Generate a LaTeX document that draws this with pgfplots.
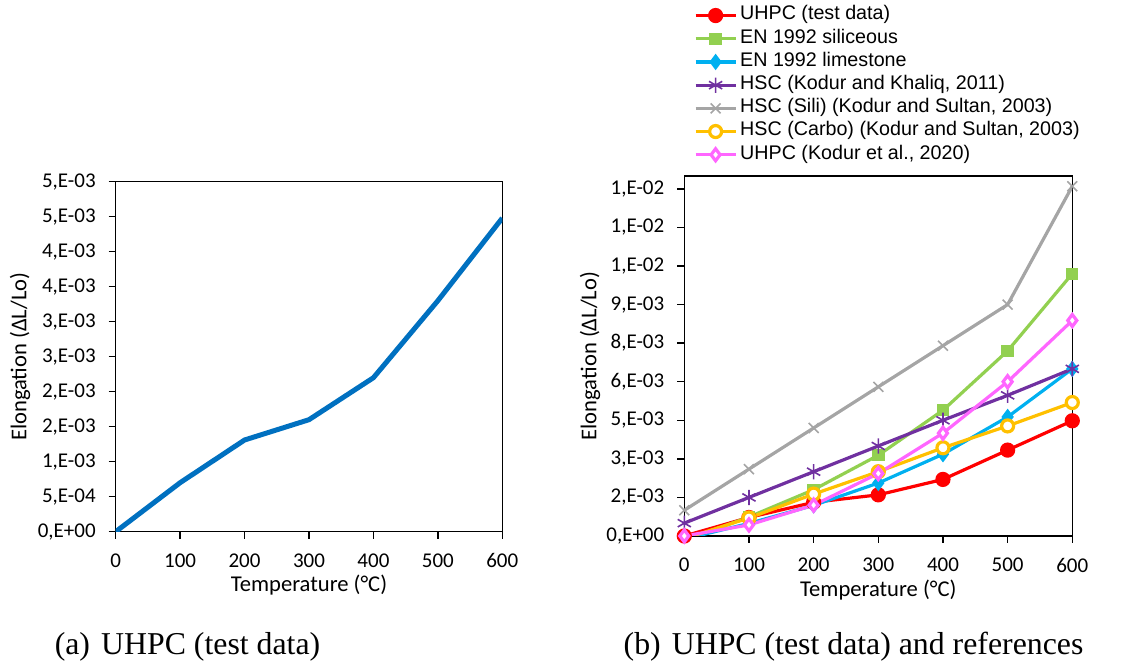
\documentclass[border=0pt]{standalone}
\usepackage{fontspec}
\setmainfont{Liberation Serif}
\newfontfamily\calibri{Carlito}
\newfontfamily\arial{Liberation Sans}
\usepackage{pgfplots}
\pgfplotsset{compat=1.18}

\definecolor{xlblue}{HTML}{0070C0}
\definecolor{xlred}{HTML}{FF0000}
\definecolor{xlgreen}{HTML}{92D050}
\definecolor{xlcyan}{HTML}{00B0F0}
\definecolor{xlpurple}{HTML}{7030A0}
\definecolor{xlgrey}{HTML}{A5A5A5}
\definecolor{xlyellow}{HTML}{FFC000}
\definecolor{xlpink}{HTML}{FF66FF}

\pgfplotsset{
  xlaxis/.style={
    scale only axis,
    axis line style={black, line width=0.75pt},
    every tick/.style={black, line width=0.75pt},
    tick align=outside, major tick length=3.5pt, tick pos=left,
    scaled y ticks=false,
    xmin=0, xmax=600, xtick={0,100,200,300,400,500,600},
    xticklabels={0,100,200,300,400,500,600},
    tick label style={font=\calibri\fontsize{10.5}{12}\selectfont},
    xticklabel style={yshift=-4pt},
    yticklabel style={xshift=-3pt},
    label style={font=\calibri\fontsize{11.3}{13}\selectfont},
    xlabel={Temperature (°C)}, ylabel={Elongation (ΔL/Lo)},
  },
  xlser/.style={line width=1.6pt, mark options={solid, line width=0.8pt}},
  legend image code/.code={%
    \draw[mark repeat=2, mark phase=2, #1] plot coordinates {(0pt,0pt) (10pt,0pt) (20pt,0pt)};},
}

\begin{document}
\begin{tikzpicture}
\useasboundingbox (0,0) rectangle (561.5pt,331pt);

% (a) test data only
\begin{axis}[xlaxis,
  at={(57.85pt,65.15pt)}, anchor=south west, width=193.3pt, height=175pt,
  ymin=0, ymax=0.005,
  ytick={0,0.0005,0.001,0.0015,0.002,0.0025,0.003,0.0035,0.004,0.0045,0.005},
  yticklabels={{0,E+00},{5,E-04},{1,E-03},{2,E-03},{2,E-03},{3,E-03},{3,E-03},{4,E-03},{4,E-03},{5,E-03},{5,E-03}},
  xlabel style={at={(axis description cs:0.5,-0.152)}, anchor=center},
  ylabel style={at={(axis description cs:-0.2475,0.5)}, anchor=center},
]
\addplot[xlblue, line width=2.5pt] coordinates {
  (0,0) (100,0.0007) (200,0.00131) (300,0.0016) (400,0.0022) (500,0.0033) (600,0.00448)};
\end{axis}

% (b) test data and references
\begin{axis}[xlaxis,
  at={(342.15pt,63pt)}, anchor=south west, width=194pt, height=180pt,
  ymin=0, ymax=0.014,
  ytick={0,0.0015,0.003,0.0045,0.006,0.0075,0.009,0.0105,0.012,0.0135},
  yticklabels={{0,E+00},{2,E-03},{3,E-03},{5,E-03},{6,E-03},{8,E-03},{9,E-03},{1,E-02},{1,E-02},{1,E-02}},
  xlabel style={at={(axis description cs:0.5,-0.15)}, anchor=center},
  ylabel style={at={(axis description cs:-0.243,0.5)}, anchor=center},
  legend style={at={(axis description cs:0.024,1.479)}, anchor=north west,
    draw=none, fill=none, inner sep=0pt, row sep=0pt,
    font=\arial\fontsize{9.85}{11.6}\selectfont,
    nodes={inner xsep=1.5pt, inner ysep=0pt, text height=8pt, text depth=3.6pt}},
  legend cell align=left,
]
\addplot[xlser, xlred, mark=*, mark size=3pt, mark options={fill=xlred}] coordinates {
  (0,0) (100,0.00072) (200,0.00131) (300,0.0016) (400,0.0022) (500,0.00334) (600,0.00448)};
\addlegendentry{UHPC (test data)}
\addplot[xlser, xlgreen, mark=square*, mark size=2.3pt, mark options={fill=xlgreen}] coordinates {
  (0,-0.00018) (100,0.00074) (200,0.0018) (300,0.00314) (400,0.00489) (500,0.0072) (600,0.0102)};
\addlegendentry{EN 1992 siliceous}
\addplot[xlser, xlcyan, mark=diamond*, mark size=2.8pt, mark options={fill=xlcyan}] coordinates {
  (0,-0.00012) (100,0.00049) (200,0.00119) (300,0.00206) (400,0.00318) (500,0.00463) (600,0.0065)};
\addlegendentry{EN 1992 limestone}
\addplot[xlser, xlpurple, mark=asterisk, mark size=3.8pt] coordinates {
  (0,0.0005) (100,0.0015) (200,0.0025) (300,0.0035) (400,0.0045) (500,0.00547) (600,0.0065)};
\addlegendentry{HSC (Kodur and Khaliq, 2011)}
\addplot[xlser, xlgrey, mark=x, mark size=3.5pt] coordinates {
  (0,0.001) (100,0.0026) (200,0.0042) (300,0.0058) (400,0.0074) (500,0.009) (600,0.0136)};
\addlegendentry{HSC (Sili) (Kodur and Sultan, 2003)}
\addplot[xlser, xlyellow, mark=*, mark size=3pt, mark options={fill=white}] coordinates {
  (0,-0.0001) (100,0.0007) (200,0.00163) (300,0.0025) (400,0.00343) (500,0.00428) (600,0.00519)};
\addlegendentry{HSC (Carbo) (Kodur and Sultan, 2003)}
\addplot[xlser, xlpink, mark=diamond*, mark size=3pt, mark options={fill=white}] coordinates {
  (0,0) (100,0.00043) (200,0.0012) (300,0.00243) (400,0.004) (500,0.006) (600,0.00838)};
\addlegendentry{UHPC (Kodur et al., 2020)}
\end{axis}

\node[anchor=base, font=\fontsize{15.9}{19}\selectfont] at (93.75pt,3.5pt) {(a)\hspace{0.35em}UHPC (test data)};
\node[anchor=base, font=\fontsize{15.9}{19}\selectfont] at (426.75pt,3.5pt) {(b)\hspace{0.35em}UHPC (test data) and references};
\end{tikzpicture}
\end{document}
